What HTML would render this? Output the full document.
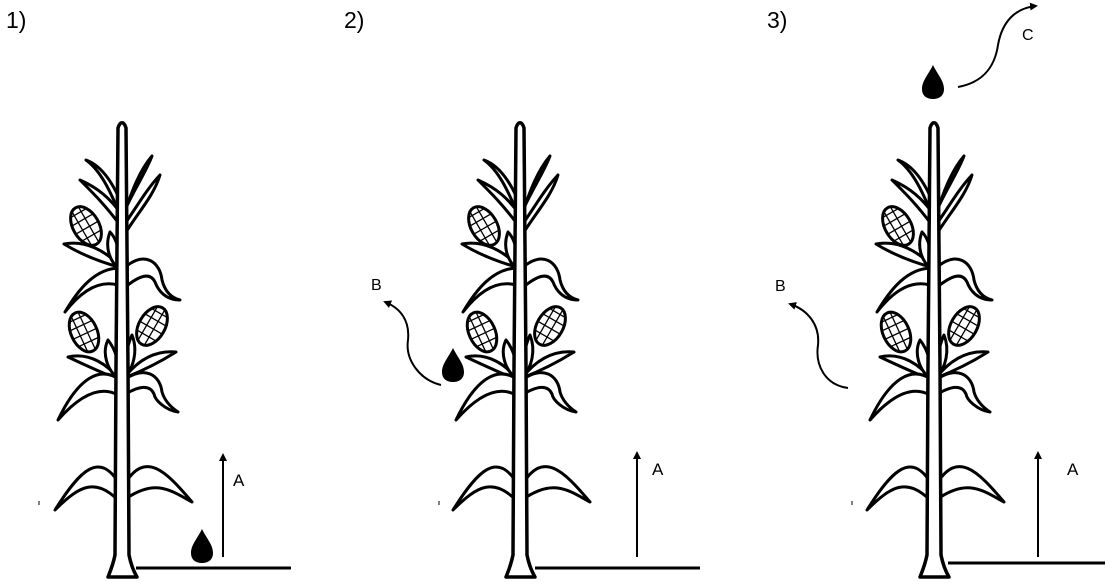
<!DOCTYPE html>
<html><head><style>
html,body{margin:0;padding:0;background:#fff;}
svg{display:block;}
text{font-family:"Liberation Sans",sans-serif;fill:#000;}
</style></head><body>
<svg width="1112" height="584" viewBox="0 0 1112 584" xmlns="http://www.w3.org/2000/svg">
<defs>
<marker id="ah" markerWidth="8" markerHeight="8" refX="6" refY="4" orient="auto" markerUnits="userSpaceOnUse">
<path d="M0,0 L8,4 L0,8 Z" fill="#000"/>
</marker>
<g id="cob">
<ellipse cx="0" cy="0" rx="13" ry="21" fill="#fff" stroke="#000" stroke-width="3"/>
<path d="M-12,-7 H12 M-13,2 H13 M-10,11 H10 M-8,-15 H8 M-5,-19 V19 M3,-20 V20" stroke="#000" stroke-width="1.3" fill="none"/>
</g>
<g id="plant" fill="#fff" stroke="#000" stroke-width="3" stroke-linejoin="round">
<path d="M120,215 C110,190 100,170 86,160 C100,165 112,180 122,205 Z"/>
<path d="M120,225 C105,205 95,195 80,180 C98,188 110,198 122,215 Z"/>
<path d="M124,215 C132,190 140,170 152,156 C146,172 134,190 126,208 Z"/>
<path d="M124,225 C138,205 146,190 160,175 C154,195 140,210 126,232 Z"/>
<use href="#cob" transform="translate(86,226) rotate(-30)"/>
<path d="M64,244 C85,240 105,250 122,268 C100,262 82,255 64,244 Z"/>
<path d="M110,232 C105,245 108,260 120,270 C120,255 118,240 110,232 Z"/>
<path d="M120,268 C95,268 78,290 65,312 C82,290 100,280 118,285 Z"/>
<path d="M124,268 C145,250 160,262 162,280 C165,292 172,298 180,300 C165,300 158,290 155,282 C150,272 140,275 124,288 Z"/>
<use href="#cob" transform="translate(84,332) rotate(-25)"/>
<use href="#cob" transform="translate(152,326) rotate(30)"/>
<path d="M68,357 C90,352 108,365 120,380 C100,372 85,365 68,357 Z"/>
<path d="M176,352 C155,350 138,360 124,378 C145,370 160,362 176,352 Z"/>
<path d="M108,340 C102,352 106,370 120,380 C120,365 116,350 108,340 Z"/>
<path d="M132,335 C138,350 134,368 124,378 C124,365 126,348 132,335 Z"/>
<path d="M120,380 C100,365 78,378 58,420 C80,395 100,385 118,395 Z"/>
<path d="M124,380 C145,365 160,375 162,392 C165,402 172,408 178,412 C165,410 155,400 154,394 C150,385 140,385 124,395 Z"/>
<path d="M120,485 C100,450 80,470 55,510 C80,485 95,478 118,500 Z"/>
<path d="M124,485 C145,450 165,470 192,502 C170,490 155,478 124,500 Z"/>
<path d="M118,128 C116,250 116,420 115,555 C113,565 110,572 108,577 L137,577 C134,572 131,565 129,555 C128,420 128,250 126,128 C124,121 120,121 118,128 Z" stroke-width="3.5"/>
</g>
<g id="drop"><path d="M0,-18 C-5,-8 -11,-2 -11,6 C-11,13 -6,16 0,16 C6,16 11,13 11,6 C11,-2 5,-8 0,-18 Z" fill="#000"/></g>
</defs>

<text x="6" y="28" font-size="23">1)</text>
<text x="344" y="28" font-size="23">2)</text>
<text x="767" y="28" font-size="23">3)</text>

<use href="#plant"/>
<use href="#plant" transform="translate(398,0)"/>
<use href="#plant" transform="translate(812,0)"/>

<line x1="39" y1="501" x2="39" y2="505" stroke="#000" stroke-width="1"/>
<line x1="439" y1="501" x2="439" y2="505" stroke="#000" stroke-width="1"/>
<line x1="852" y1="501" x2="852" y2="505" stroke="#000" stroke-width="1"/>

<line x1="136" y1="568" x2="291" y2="568" stroke="#000" stroke-width="3"/>
<line x1="223" y1="557" x2="223" y2="455" stroke="#000" stroke-width="2" marker-end="url(#ah)"/>
<text x="233" y="486" font-size="17">A</text>
<use href="#drop" transform="translate(202,547)"/>

<line x1="535" y1="568" x2="700" y2="568" stroke="#000" stroke-width="3"/>
<line x1="637" y1="557" x2="637" y2="453" stroke="#000" stroke-width="2" marker-end="url(#ah)"/>
<text x="652" y="475" font-size="17">A</text>
<use href="#drop" transform="translate(453,366)"/>
<text x="371" y="290" font-size="16">B</text>
<path d="M441,385 C420,380 405,360 408,340 C410,320 400,308 385,302" fill="none" stroke="#000" stroke-width="2" marker-end="url(#ah)"/>

<line x1="948" y1="563" x2="1105" y2="563" stroke="#000" stroke-width="3"/>
<line x1="1038" y1="557" x2="1038" y2="453" stroke="#000" stroke-width="2" marker-end="url(#ah)"/>
<text x="1067" y="475" font-size="17">A</text>
<text x="775" y="291" font-size="16">B</text>
<path d="M848,388 C825,385 815,365 818,345 C820,325 808,310 790,304" fill="none" stroke="#000" stroke-width="2" marker-end="url(#ah)"/>
<use href="#drop" transform="translate(933,83)"/>
<text x="1022" y="40" font-size="16">C</text>
<path d="M958,87 C985,82 995,65 998,45 C1002,22 1015,8 1036,6" fill="none" stroke="#000" stroke-width="2" marker-end="url(#ah)"/>
</svg>
</body></html>
